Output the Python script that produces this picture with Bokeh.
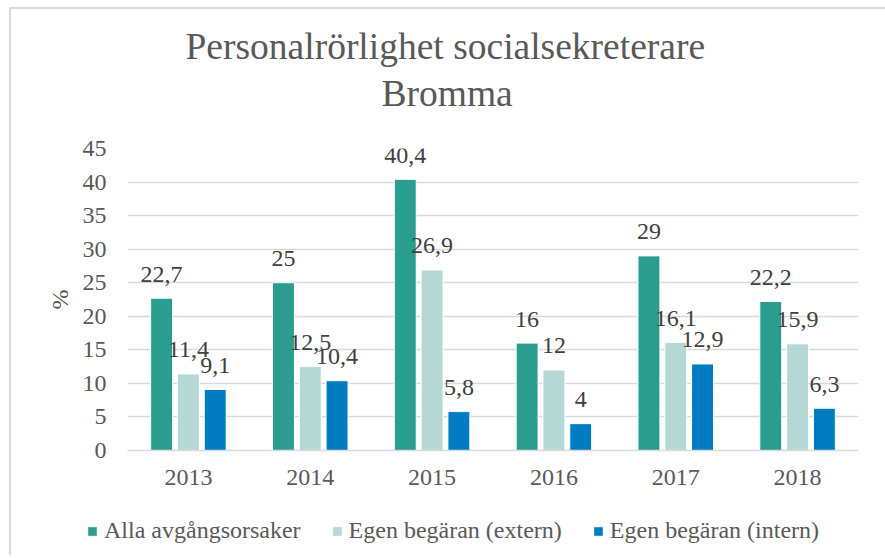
from bokeh.plotting import figure
from bokeh.layouts import column
from bokeh.models import Legend, LegendItem, Range1d, FixedTicker, ColumnDataSource, Title
from bokeh.transform import dodge
from bokeh.core.properties import value
from bokeh.embed import file_html
from bokeh.resources import INLINE

years = ["2013", "2014", "2015", "2016", "2017", "2018"]
alla = [22.7, 25, 40.4, 16, 29, 22.2]
extern = [11.4, 12.5, 26.9, 12, 16.1, 15.9]
intern = [9.1, 10.4, 5.8, 4, 12.9, 6.3]
series_names = ["Alla avgångsorsaker", "Egen begäran (extern)", "Egen begäran (intern)"]
series_colors = ["#2a9d8f", "#b5d8d5", "#007cc3"]
y_ticks = [0, 5, 10, 15, 20, 25, 30, 35, 40, 45]
title_lines = ["Personalrörlighet socialsekreterare", "Bromma"]

FONT = "Liberation Serif"
GRAY = "#595959"
FS = "24px"


def fmt(v):
    return ("%g" % v).replace(".", ",")


p = figure(x_range=years, y_range=Range1d(0, 45), frame_width=731, frame_height=302,
           output_backend="svg", toolbar_location=None, title=None,
           min_border_left=116, min_border_right=27, min_border_top=139, min_border_bottom=45)

# spacer between title block and plot area, then the two title lines
p.add_layout(Title(text=" ", text_font_size="1px", standoff=32), "above")
standoffs = [8, 0]
offsets_t = [58, 254]
for line, so, of in reversed(list(zip(title_lines, standoffs, offsets_t))):
    p.add_layout(Title(text=line, align="left", offset=of, standoff=so,
                       text_font=FONT, text_font_size="37.5px",
                       text_font_style="normal", text_color=GRAY), "above")

src = ColumnDataSource(dict(year=years, a=alla, e=extern, i=intern,
                            la=[fmt(v) for v in alla], le=[fmt(v) for v in extern],
                            li=[fmt(v) for v in intern]))

offsets = [-0.22, 0.0, 0.22]
cols = ["a", "e", "i"]
lcols = ["la", "le", "li"]
for off, c, lc, color in zip(offsets, cols, lcols, series_colors):
    p.vbar(x=dodge("year", off, range=p.x_range), top=c, width=0.18, source=src,
           fill_color=color, line_color="white", line_width=1)
    p.text(x=dodge("year", off, range=p.x_range), y=c, text=lc, source=src,
           text_align="center", text_baseline="alphabetic", y_offset=-24,
           text_font=value(FONT), text_font_size=FS, text_color="#404040")

p.yaxis.ticker = FixedTicker(ticks=y_ticks)
p.yaxis.axis_line_color = None
p.yaxis.major_tick_line_color = None
p.yaxis.minor_tick_line_color = None
p.yaxis.major_label_standoff = 15
p.yaxis.axis_label = "%"
p.yaxis.axis_label_standoff = 7
p.yaxis.axis_label_text_font = FONT
p.yaxis.axis_label_text_font_style = "normal"
p.yaxis.axis_label_text_font_size = FS
p.yaxis.axis_label_text_color = GRAY

p.xaxis.axis_line_color = "#d9d9d9"
p.xaxis.axis_line_width = 1.5
p.xaxis.major_tick_line_color = None
p.xaxis.minor_tick_line_color = None
p.xaxis.major_label_standoff = 13

for ax in (p.xaxis, p.yaxis):
    ax.major_label_text_font = FONT
    ax.major_label_text_font_size = FS
    ax.major_label_text_color = GRAY

p.xgrid.grid_line_color = None
p.ygrid.grid_line_color = "#d9d9d9"
p.ygrid.grid_line_width = 1.5
p.outline_line_color = None
p.x_range.range_padding = 0
p.x_range.group_padding = 0

# legend strip below the chart (hidden copies of the series supply the legend swatches)
pl = figure(x_range=years, y_range=Range1d(0, 45), frame_width=874, frame_height=60,
            output_backend="svg", toolbar_location=None,
            min_border_left=0, min_border_right=0, min_border_top=0, min_border_bottom=0)
pl.axis.visible = False
pl.grid.visible = False
pl.outline_line_color = None
items = []
for off, c, name, color in zip(offsets, cols, series_names, series_colors):
    r = pl.vbar(x=dodge("year", off, range=pl.x_range), top=c, width=0.18, source=src,
                fill_color=color, line_color="white", line_width=1, visible=False)
    items.append(LegendItem(label=name, renderers=[r]))
legend = Legend(items=items, orientation="horizontal", location=(75, 11),
                glyph_width=12, glyph_height=12, label_standoff=6, spacing=30, padding=5,
                label_text_font=FONT, label_text_font_size=FS, label_text_color=GRAY,
                inactive_fill_alpha=0, click_policy="none",
                border_line_color=None, background_fill_alpha=0)
pl.add_layout(legend, "center")

lay = column(p, pl, spacing=0)
lay.styles = {"border-top": "2px solid #d9d9d9", "border-left": "2px solid #d9d9d9",
              "margin-left": "9px", "margin-top": "7px"}

open("out.html", "w").write(file_html(lay, INLINE))
